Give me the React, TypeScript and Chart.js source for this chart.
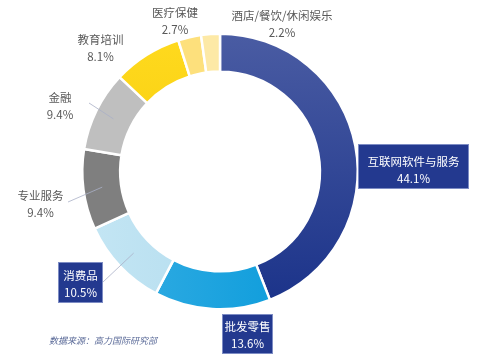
import React, { useEffect, useRef } from "react";
import { Chart, registerables } from "chart.js";

Chart.register(...registerables);

// ---------- data ----------
const categories = [
  "互联网软件与服务",
  "批发零售",
  "消费品",
  "专业服务",
  "金融",
  "教育培训",
  "医疗保健",
  "酒店/餐饮/休闲娱乐",
];
const shares = [44.1, 13.6, 10.5, 9.4, 9.4, 8.1, 2.7, 2.2];
const percentLabels = ["44.1%", "13.6%", "10.5%", "9.4%", "9.4%", "8.1%", "2.7%", "2.2%"];
const sourceNote = "数据来源：高力国际研究部";

// ---------- styles ----------
const FONT = '"Noto Sans CJK SC", "Noto Sans", sans-serif';
const gradientStops: [string, string][] = [
  ["#4a5ca3", "#1a3289"],
  ["#39afe4", "#0097d9"],
  ["#c4e6f4", "#a7d5ea"],
  ["#7f7f7f", "#7f7f7f"],
  ["#bfbfbf", "#bfbfbf"],
  ["#ffda1f", "#f0c300"],
  ["#fde07c", "#fde07c"],
  ["#fde9a6", "#fde9a6"],
];
const gradientDir: ("v" | "h")[] = ["v", "h", "h", "v", "v", "v", "v", "v"];

// label layout relative to doughnut centre (px): block centre, optional box, optional leader start
type LabelLayout = { dx: number; dy: number; box?: { w: number; h: number; dy: number }; lead?: { dx: number; dy: number } };
const labelLayout: LabelLayout[] = [
  { dx: 193.5, dy: -1.5, box: { w: 111, h: 45, dy: -3.5 } },
  { dx: 27.5, dy: 163.5, box: { w: 51, h: 40, dy: -1 } },
  { dx: -139.5, dy: 113, box: { w: 45, h: 41, dy: -2 }, lead: { dx: -117, dy: 110.5 } },
  { dx: -179.5, dy: 33, lead: { dx: -152, dy: 30.5 } },
  { dx: -160, dy: -65.5, lead: { dx: -131, dy: -68.5 } },
  { dx: -119.5, dy: -123 },
  { dx: -45, dy: -150 },
  { dx: 62, dy: -147 },
];

const labelPlugin = {
  id: "customLabels",
  afterDatasetsDraw(chart: any) {
    const ctx: CanvasRenderingContext2D = chart.ctx;
    const meta = chart.getDatasetMeta(0);
    const first = meta.data[0];
    if (!first) return;
    const cx = first.x;
    const cy = first.y;
    ctx.save();
    ctx.textAlign = "center";
    ctx.textBaseline = "middle";
    meta.data.forEach((arc: any, i: number) => {
      const L = labelLayout[i];
      const x = cx + L.dx;
      const y = cy + L.dy;
      if (L.lead) {
        const p = arc.tooltipPosition(false);
        ctx.beginPath();
        ctx.strokeStyle = "#a9b0c6";
        ctx.lineWidth = 0.8;
        ctx.moveTo(cx + L.lead.dx, cy + L.lead.dy);
        ctx.lineTo(p.x, p.y);
        ctx.stroke();
      }
      if (L.box) {
        const bx = x - L.box.w / 2;
        const by = y + L.box.dy - L.box.h / 2;
        ctx.fillStyle = "#23398f";
        ctx.fillRect(bx, by, L.box.w, L.box.h);
        ctx.strokeStyle = "#7d8cc4";
        ctx.lineWidth = 1;
        ctx.strokeRect(bx + 0.5, by + 0.5, L.box.w - 1, L.box.h - 1);
        ctx.fillStyle = "#ffffff";
      } else {
        ctx.fillStyle = "#595959";
      }
      ctx.font = `11.5px ${FONT}`;
      ctx.fillText(categories[i], x, y - 8.5);
      ctx.font = `11.5px ${FONT}`;
      ctx.fillText(percentLabels[i], x, y + 8.5);
    });
    // source note
    ctx.textAlign = "left";
    ctx.fillStyle = "#5a6a98";
    ctx.font = `italic 9px ${FONT}`;
    ctx.fillText(sourceNote, 49, 341);
    ctx.restore();
  },
};

export default function App() {
  const canvasRef = useRef<HTMLCanvasElement | null>(null);

  useEffect(() => {
    if (!canvasRef.current) return;
    const chart = new Chart(canvasRef.current, {
      type: "doughnut",
      data: {
        labels: categories,
        datasets: [
          {
            data: shares,
            backgroundColor: (c: any) => {
              const i = c.dataIndex;
              const chartObj = c.chart;
              const area = chartObj.chartArea;
              const [a, b] = gradientStops[i];
              if (!area || a === b) return a;
              const g =
                gradientDir[i] === "v"
                  ? chartObj.ctx.createLinearGradient(0, area.top, 0, area.bottom)
                  : chartObj.ctx.createLinearGradient(area.left, 0, area.right, 0);
              g.addColorStop(0, a);
              g.addColorStop(1, b);
              return g;
            },
            borderColor: "#ffffff",
            borderWidth: 2.5,
          },
        ],
      },
      options: {
        responsive: false,
        animation: false,
        devicePixelRatio: 1,
        cutout: "72.5%",
        events: [],
        layout: { padding: { left: 81, right: 141, top: 32.5, bottom: 43.5 } },
        plugins: {
          legend: { display: false },
          tooltip: { enabled: false },
        },
      },
      plugins: [labelPlugin],
    });
    return () => chart.destroy();
  }, []);

  return (
    <div style={{ position: "absolute", left: 0, top: 0, width: 500, height: 354, background: "#ffffff" }}>
      <canvas ref={canvasRef} width={500} height={354} />
    </div>
  );
}
